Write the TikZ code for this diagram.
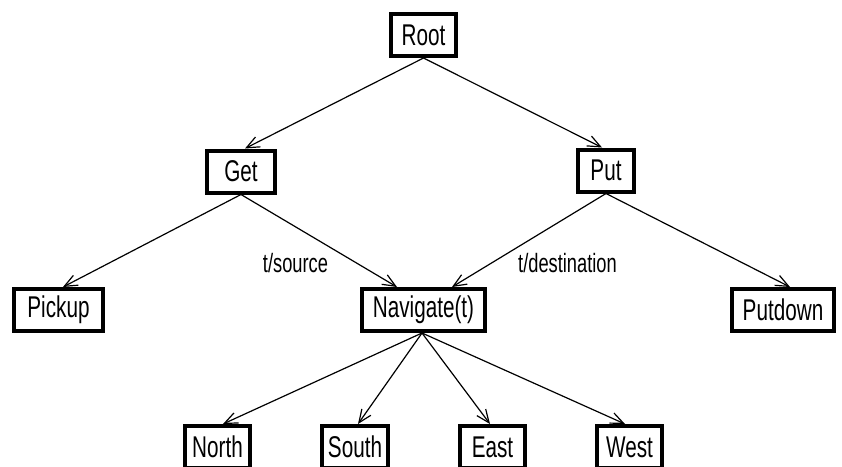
\documentclass[tikz,border=0pt]{standalone}
\usepackage{fontspec}
\setmainfont[FakeStretch=0.69]{Liberation Sans}
\usetikzlibrary{arrows.meta}
\tikzset{
  box/.style={draw, line width=4pt, inner sep=0pt, minimum width=65.5pt,
    minimum height=42pt, font=\fontsize{30}{32}\selectfont},
  edgelabel/.style={font=\fontsize{26.5}{28}\selectfont},
  link/.style={line width=1.2pt, -{Straight Barb[length=13pt,width=11pt,line width=1.2pt]}}
}
\begin{document}
\begin{tikzpicture}[x=1pt, y=-1pt]
    \path[use as bounding box, clip] (0,0) rectangle (842,466);
    % Tasks
    \node[box] (root) at (423.5,35) {Root};
    \node[box, minimum width=68pt] (get) at (241,171.5) {Get};
    \node[box, minimum width=56pt] (put) at (606,170.5) {Put};
    % Subtasks
    \node[box, minimum width=89pt] (pickup) at (58.5,310) {Pickup};
    \node[box, minimum width=123pt] (navigate) at (423.5,310) {Navigate(t)};
    \node[box, minimum width=102pt] (putdown) at (783,310) {Putdown};
    % Primitive moves
    \node[box] (north) at (217.5,447) {North};
    \node[box] (south) at (355,447) {South};
    \node[box] (east) at (492.5,447) {East};
    \node[box] (west) at (629.5,447) {West};
    % Parameter bindings
    \node[edgelabel] (src) at (295.5,263) {t/source};
    \node[edgelabel] (dst) at (567.5,263) {t/destination};
    % Edges
    \draw[link] (root.south) -- ([xshift=4pt]get.north);
    \draw[link] (root.south) -- ([xshift=-4pt]put.north);
    \draw[link] (get.south) -- ([xshift=4.5pt]pickup.north);
    \draw[link] (get.south) -- ([xshift=-26.5pt]navigate.north);
    \draw[link] (put.south) -- ([xshift=28.5pt]navigate.north);
    \draw[link] (put.south) -- ([xshift=7pt]putdown.north);
    \draw[link] ([xshift=-1.5pt]navigate.south) -- ([xshift=5.5pt]north.north);
    \draw[link] ([xshift=-1.5pt]navigate.south) -- ([xshift=3pt]south.north);
    \draw[link] ([xshift=-1.5pt]navigate.south) -- ([xshift=-2.5pt]east.north);
    \draw[link] ([xshift=-1.5pt]navigate.south) -- ([xshift=-4.5pt]west.north);
\end{tikzpicture}
\end{document}
